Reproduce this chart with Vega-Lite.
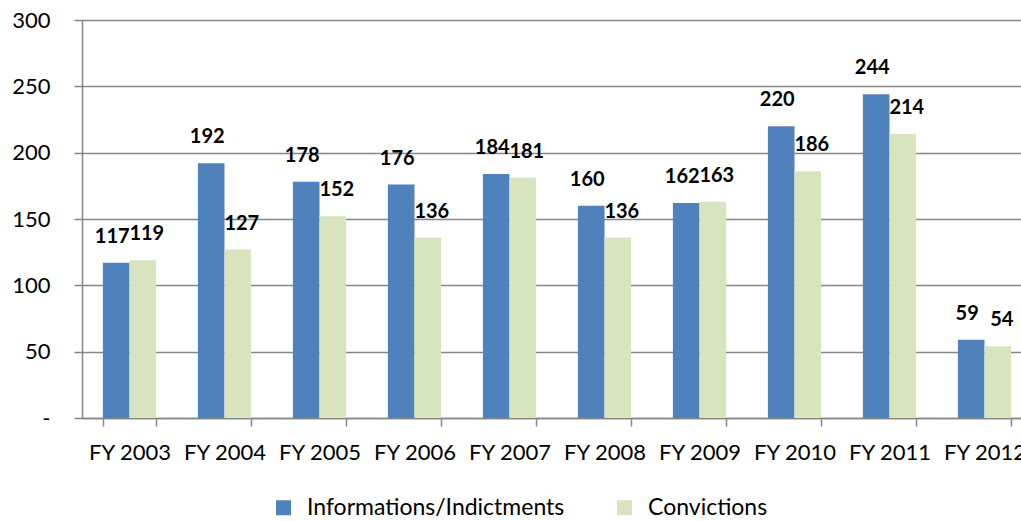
{
  "$schema": "https://vega.github.io/schema/vega-lite/v6.json",
  "autosize": {"type": "none"},
  "padding": {"left": 82, "top": 20, "right": 0, "bottom": 103},
  "width": 939,
  "height": 398,
  "background": "white",
  "config": {
    "view": {"stroke": null},
    "font": "Lato",
    "axis": {"labelFont": "Lato", "labelFontSize": 22, "labelColor": "black"}
  },
  "data": {
    "values": [
      {"year": "FY 2003", "series": "Informations/Indictments", "value": 117},
      {"year": "FY 2003", "series": "Convictions", "value": 119},
      {"year": "FY 2004", "series": "Informations/Indictments", "value": 192},
      {"year": "FY 2004", "series": "Convictions", "value": 127},
      {"year": "FY 2005", "series": "Informations/Indictments", "value": 178},
      {"year": "FY 2005", "series": "Convictions", "value": 152},
      {"year": "FY 2006", "series": "Informations/Indictments", "value": 176},
      {"year": "FY 2006", "series": "Convictions", "value": 136},
      {"year": "FY 2007", "series": "Informations/Indictments", "value": 184},
      {"year": "FY 2007", "series": "Convictions", "value": 181},
      {"year": "FY 2008", "series": "Informations/Indictments", "value": 160},
      {"year": "FY 2008", "series": "Convictions", "value": 136},
      {"year": "FY 2009", "series": "Informations/Indictments", "value": 162},
      {"year": "FY 2009", "series": "Convictions", "value": 163},
      {"year": "FY 2010", "series": "Informations/Indictments", "value": 220},
      {"year": "FY 2010", "series": "Convictions", "value": 186},
      {"year": "FY 2011", "series": "Informations/Indictments", "value": 244},
      {"year": "FY 2011", "series": "Convictions", "value": 214},
      {"year": "FY 2012", "series": "Informations/Indictments", "value": 59},
      {"year": "FY 2012", "series": "Convictions", "value": 54}
    ]
  },
  "encoding": {
    "x": {
      "field": "year",
      "type": "nominal",
      "sort": null,
      "scale": {"range": [0, 950], "paddingInner": 0.44, "paddingOuter": 0.22},
      "axis": {
        "title": null,
        "labelAngle": 0,
        "tickBand": "extent",
        "tickSize": 8,
        "tickColor": "#868686",
        "domainColor": "#868686",
        "domainWidth": 1.5,
        "tickWidth": 1.5,
        "labelPadding": 16,
        "grid": false
      }
    },
    "xOffset": {
      "field": "series",
      "type": "nominal",
      "sort": ["Informations/Indictments", "Convictions"],
      "scale": {"paddingInner": 0, "paddingOuter": 0}
    },
    "y": {
      "field": "value",
      "type": "quantitative",
      "scale": {"domain": [0, 300], "nice": false},
      "axis": {
        "title": null,
        "values": [0, 50, 100, 150, 200, 250, 300],
        "labelExpr": "datum.value == 0 ? '-' : datum.label",
        "grid": true,
        "gridColor": "#868686",
        "gridWidth": 1.5,
        "tickColor": "#868686",
        "tickWidth": 1.5,
        "tickSize": 8,
        "domainColor": "#868686",
        "domainWidth": 1.5,
        "labelPadding": 24
      }
    }
  },
  "layer": [
    {
      "mark": {"type": "bar"},
      "encoding": {
        "color": {
          "field": "series",
          "type": "nominal",
          "sort": ["Informations/Indictments", "Convictions"],
          "scale": {"domain": ["Informations/Indictments", "Convictions"], "range": ["#4F81BD", "#D7E4BD"]},
          "legend": {
            "title": null,
            "orient": "none",
            "direction": "horizontal",
            "legendX": 190,
            "legendY": 476,
            "symbolType": "square",
            "symbolSize": 225,
            "symbolStrokeWidth": 0,
            "labelFont": "Lato",
            "labelFontSize": 23,
            "labelColor": "black",
            "labelOffset": 12,
            "columnPadding": 48,
            "labelLimit": 400
          }
        }
      }
    },
    {
      "transform": [{"filter": "datum.series == 'Informations/Indictments'"}],
      "mark": {"type": "text", "font": "Lato", "fontWeight": "bold", "fontSize": 20, "baseline": "alphabetic", "dy": -20, "dx": -4, "color": "black"},
      "encoding": {
        "text": {"field": "value", "type": "quantitative"}
      }
    },
    {
      "transform": [{"filter": "datum.series == 'Convictions'"}],
      "mark": {"type": "text", "font": "Lato", "fontWeight": "bold", "fontSize": 20, "baseline": "alphabetic", "dy": -20, "dx": 4, "color": "black"},
      "encoding": {
        "text": {"field": "value", "type": "quantitative"}
      }
    }
  ]
}
